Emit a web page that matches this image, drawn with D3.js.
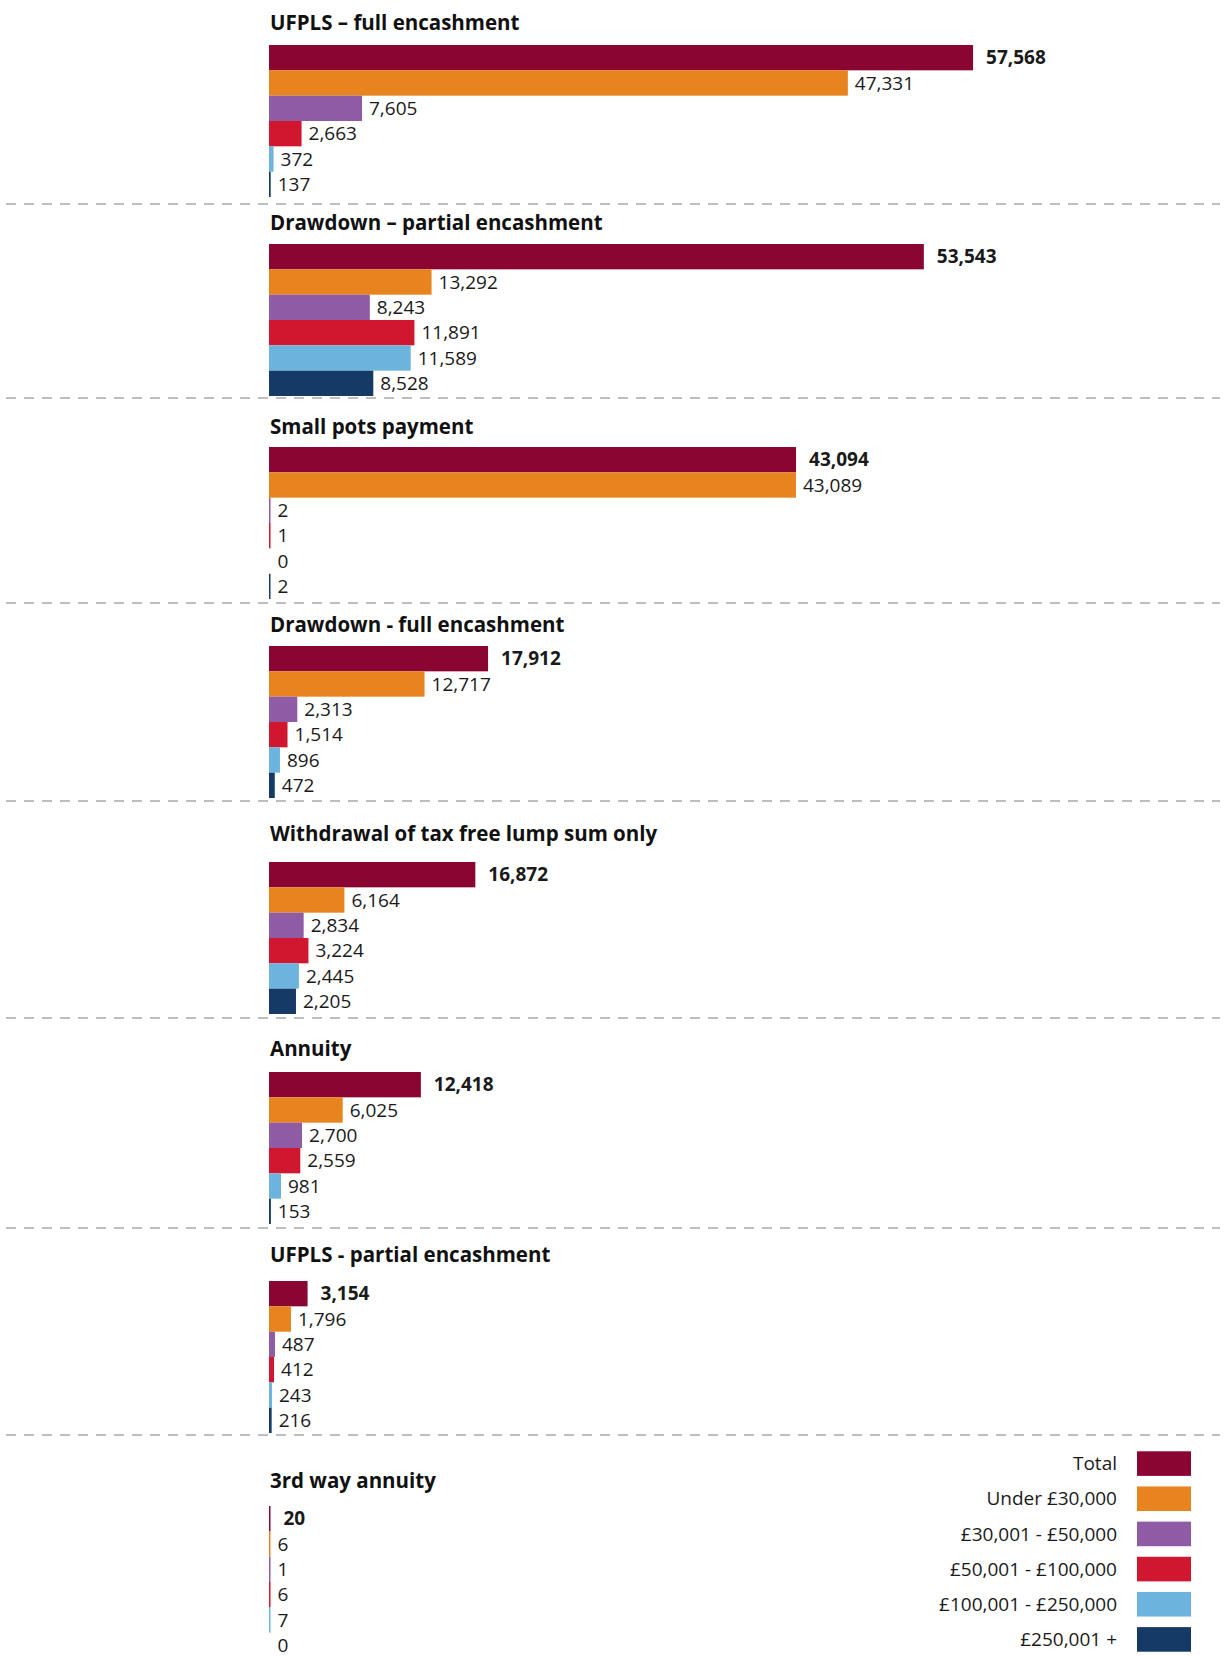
<!DOCTYPE html>
<html>
<head>
<meta charset="utf-8">
<script src="https://cdn.jsdelivr.net/npm/d3@7"></script>
<style>
	body { margin: 0; background: #fff; }
	svg { display: block; font-family: "Open Sans", "Noto Sans", sans-serif; }
</style>
</head>
<body>
<div id="chart"></div>
<script>
// --- data ---
const panelTitles = [
	"UFPLS – full encashment",
	"Drawdown – partial encashment",
	"Small pots payment",
	"Drawdown - full encashment",
	"Withdrawal of tax free lump sum only",
	"Annuity",
	"UFPLS - partial encashment",
	"3rd way annuity",
];
const seriesNames = ["Total", "Under £30,000", "£30,001 - £50,000", "£50,001 - £100,000", "£100,001 - £250,000", "£250,001 +"];
const seriesColors = ["#8a0531", "#e8841e", "#8e5ba4", "#d0172f", "#6cb4de", "#163a66"];

const ufplsFull = [57568, 47331, 7605, 2663, 372, 137];
const drawdownPartial = [53543, 13292, 8243, 11891, 11589, 8528];
const smallPots = [43094, 43089, 2, 1, 0, 2];
const drawdownFull = [17912, 12717, 2313, 1514, 896, 472];
const taxFreeOnly = [16872, 6164, 2834, 3224, 2445, 2205];
const annuity = [12418, 6025, 2700, 2559, 981, 153];
const ufplsPartial = [3154, 1796, 487, 412, 243, 216];
const thirdWay = [20, 6, 1, 6, 7, 0];
const panelValues = [ufplsFull, drawdownPartial, smallPots, drawdownFull, taxFreeOnly, annuity, ufplsPartial, thirdWay];

// --- layout ---
const W = 1227, H = 1657;
const barLeft = 269;
const titleY = [29.5, 229.5, 434, 632, 841, 1056, 1262, 1488];
const barTop = [45, 244, 447, 646, 862, 1072, 1281, 1506];
const sepY = [204, 398, 603, 801, 1018, 1228, 1435];
const bandH = 152;

const svg = d3.select("#chart").append("svg")
	.attr("width", W)
	.attr("height", H);

const x = d3.scaleLinear().domain([0, 60000]).range([barLeft, barLeft + 733.8]);
const y = d3.scaleBand().domain(d3.range(seriesNames.length)).range([0, bandH]).padding(0);
const fmt = d3.format(",");

// dashed separators
svg.selectAll("line.sep")
	.data(sepY)
	.join("line")
	.attr("class", "sep")
	.attr("x1", 6).attr("x2", 1220)
	.attr("y1", (d) => d).attr("y2", (d) => d)
	.attr("stroke", "#a7a9ac")
	.attr("stroke-width", 1.5)
	.attr("stroke-dasharray", "10,8");

panelValues.forEach((vals, p) => {
	const g = svg.append("g").attr("transform", `translate(0,${barTop[p]})`);

	svg.append("text")
		.attr("x", barLeft + 1)
		.attr("y", titleY[p])
		.attr("font-size", 20.5)
		.attr("font-weight", 700)
		.attr("fill", "#111")
		.text(panelTitles[p]);

	// tiny values still get a hairline, like the original
	const w = (v) => (v > 0 ? Math.max(x(v) - x(0), 1.5) : 0);

	g.selectAll("rect")
		.data(vals)
		.join("rect")
		.attr("x", x(0))
		.attr("y", (d, i) => y(i))
		.attr("width", (d) => w(d))
		.attr("height", y.bandwidth())
		.attr("fill", (d, i) => seriesColors[i]);

	g.selectAll("text")
		.data(vals)
		.join("text")
		.attr("x", (d, i) => x(0) + Math.max(w(d), 1.5) + (i === 0 ? 13 : 7))
		.attr("y", (d, i) => y(i) + y.bandwidth() / 2)
		.attr("dy", "0.35em")
		.attr("font-size", 19)
		.attr("font-weight", (d, i) => (i === 0 ? 700 : 400))
		.attr("fill", "#1a1a1a")
		.text((d) => fmt(d));
});

// legend
const legY = d3.scaleBand().domain(d3.range(seriesNames.length)).range([1446, 1657]).padding(0);
const leg = svg.append("g");
leg.selectAll("rect")
	.data(seriesNames)
	.join("rect")
	.attr("x", 1137)
	.attr("y", (d, i) => legY(i) + legY.bandwidth() / 2 - 12.3)
	.attr("width", 54)
	.attr("height", 24.6)
	.attr("fill", (d, i) => seriesColors[i]);
leg.selectAll("text")
	.data(seriesNames)
	.join("text")
	.attr("x", 1117)
	.attr("y", (d, i) => legY(i) + legY.bandwidth() / 2)
	.attr("dy", "0.35em")
	.attr("text-anchor", "end")
	.attr("font-size", 19)
	.attr("fill", "#1a1a1a")
	.text((d) => d);
</script>
</body>
</html>
